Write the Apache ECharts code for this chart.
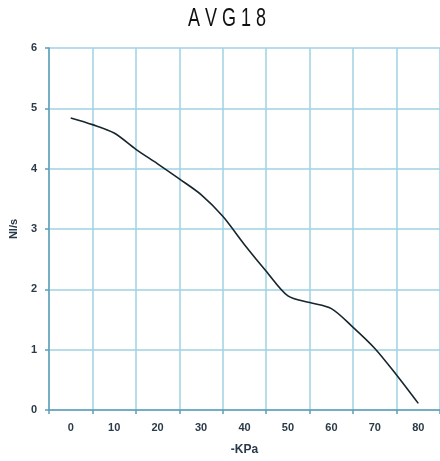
<!DOCTYPE html>
<html>
<head>
<meta charset="utf-8">
<script src="https://cdn.jsdelivr.net/npm/echarts@6/dist/echarts.min.js"></script>
<style>
html,body{margin:0;padding:0;background:#fff;}
#c{width:440px;height:461px;}
</style>
</head>
<body>
<div id="c"></div>
<script>
const titleText = 'A V G 1 8';
const xName = '-KPa';
const yName = 'Nl/s';
const pressure = [0, 5, 10, 15, 20, 25, 30, 35, 40, 45, 50, 55, 60, 65, 70, 75, 80];
const flow = [4.84, 4.73, 4.59, 4.32, 4.08, 3.83, 3.57, 3.21, 2.74, 2.30, 1.89, 1.78, 1.68, 1.37, 1.02, 0.58, 0.11];
const xLabelValues = [0, 10, 20, 30, 40, 50, 60, 70, 80];
const xGridValues = [-5, 5, 15, 25, 35, 45, 55, 65, 75, 85];

const chart = echarts.init(document.getElementById('c'), null, {renderer: 'canvas'});
const labelStyle = {color: '#2b3a48', fontSize: 11, fontWeight: 'bold', fontFamily: 'Liberation Sans, Arial, sans-serif'};
chart.setOption({
  animation: false,
  backgroundColor: '#ffffff',
  graphic: [{
    type: 'text',
    x: 227, y: 19,
    scaleX: 0.72,
    style: {
      text: titleText,
      fontFamily: 'Liberation Sans, Arial, sans-serif',
      fontSize: 25,
      fill: '#111',
      align: 'center',
      verticalAlign: 'middle'
    }
  }],
  grid: {left: 47.7, right: -0.7, top: 48, bottom: 49, containLabel: false},
  xAxis: {
    type: 'value', min: -5, max: 85, interval: 10,
    name: xName, nameLocation: 'middle', nameGap: 34,
    nameTextStyle: {color: '#2b3a48', fontSize: 12, fontWeight: 'bold', fontFamily: 'Liberation Sans, Arial, sans-serif'},
    axisLine: {show: true, onZero: false, lineStyle: {color: '#5e9fb6', width: 1.5}},
    axisTick: {show: true, length: 4, customValues: xGridValues, lineStyle: {color: '#5e9fb6', width: 1.5}},
    axisLabel: Object.assign({margin: 12, customValues: xLabelValues}, labelStyle),
    splitLine: {show: true, lineStyle: {color: '#9fd2e4', width: 1.5}}
  },
  yAxis: {
    type: 'value', min: 0, max: 6, interval: 1,
    name: yName, nameLocation: 'middle', nameGap: 30, nameRotate: 90,
    nameTextStyle: {color: '#2b3a48', fontSize: 11, fontWeight: 'bold', fontFamily: 'Liberation Sans, Arial, sans-serif'},
    axisLine: {show: true, onZero: false, lineStyle: {color: '#5e9fb6', width: 1.5}},
    axisTick: {show: true, length: 4, lineStyle: {color: '#5e9fb6', width: 1.5}},
    axisLabel: Object.assign({margin: 12}, labelStyle),
    splitLine: {show: true, lineStyle: {color: '#9fd2e4', width: 1.5}}
  },
  series: [{
    type: 'line',
    data: pressure.map((p, i) => [p, flow[i]]),
    smooth: 0.3,
    showSymbol: false,
    lineStyle: {color: '#17262c', width: 1.6}
  }]
});
</script>
</body>
</html>
